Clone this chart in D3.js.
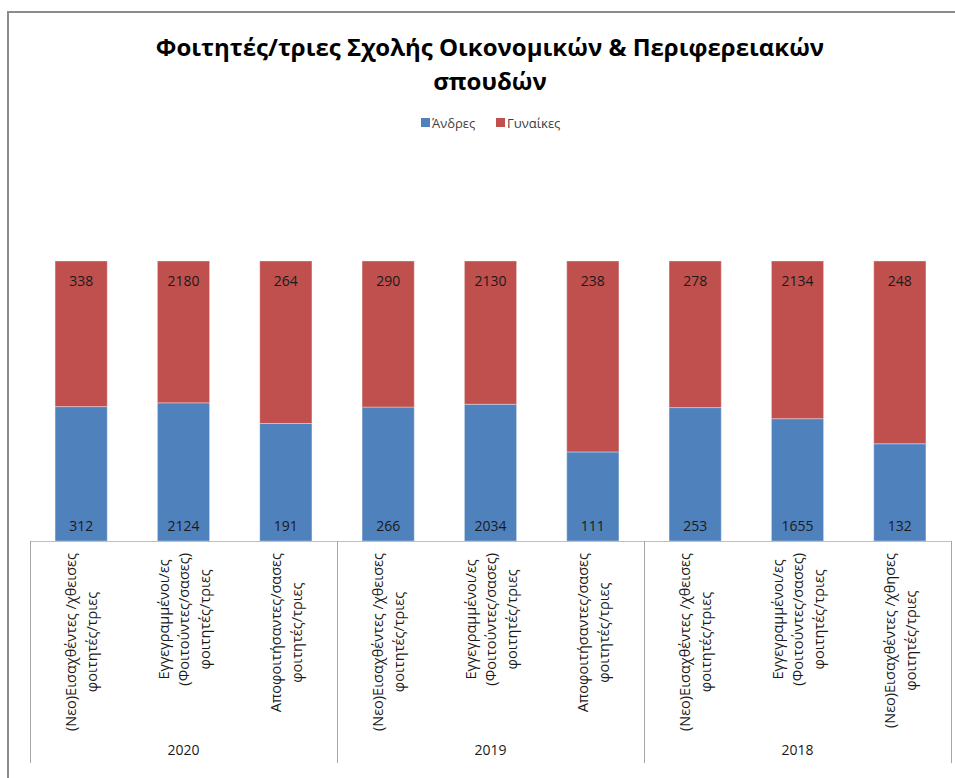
<!DOCTYPE html>
<html>
<head>
<meta charset="utf-8">
<script src="https://cdn.jsdelivr.net/npm/d3@7"></script>
<style>
  html, body { margin: 0; padding: 0; background: #fff; }
  svg { display: block; }
  text { font-family: "Open Sans", "DejaVu Sans", sans-serif; }
</style>
</head>
<body>
<svg id="chart" width="955" height="778"></svg>
<script>
// Category labels (line breaks split with "|"), grouped by academic year
const categories = [
  "(Νεο)Εισαχθέντες /χθεισες|φοιτητές/τριες",
  "Εγγεγραμμένοι/ες|(Φοιτούντες/σασες)|φοιτητές/τριες",
  "Αποφοιτήσαντες/σασες|φοιτητές/τριες",
  "(Νεο)Εισαχθέντες /χθεισες|φοιτητές/τριες",
  "Εγγεγραμμένοι/ες|(Φοιτούντες/σασες)|φοιτητές/τριες",
  "Αποφοιτήσαντες/σασες|φοιτητές/τριες",
  "(Νεο)Εισαχθέντες /χθεισες|φοιτητές/τριες",
  "Εγγεγραμμένοι/ες|(Φοιτούντες/σασες)|φοιτητές/τριες",
  "(Νεο)Εισαχθέντες /χθησες|φοιτητές/τριες"
];
const years = ["2020", "2019", "2018"];
const perYear = 3;

const seriesNames = ["Άνδρες", "Γυναίκες"];
const men   = [312, 2124, 191, 266, 2034, 111, 253, 1655, 132];
const women = [338, 2180, 264, 290, 2130, 238, 278, 2134, 248];

const colors = ["#4f81bd", "#c0504d"];
const title = ["Φοιτητές/τριες Σχολής Οικονομικών & Περιφερειακών", "σπουδών"];

// --- layout ---
const svg = d3.select("#chart");
const plot = { left: 30, right: 951, top: 261, bottom: 541, axisBottom: 763 };

// chart frame
svg.append("rect")
  .attr("x", 8).attr("y", 12)
  .attr("width", 1000).attr("height", 1000)
  .attr("fill", "#fff")
  .attr("stroke", "#8c8c8c").attr("stroke-width", 2);

// title
svg.append("text")
  .attr("text-anchor", "middle")
  .attr("font-size", 24).attr("font-weight", "bold").attr("fill", "#000")
  .selectAll("tspan").data(title).join("tspan")
  .attr("x", 490)
  .attr("y", (d, i) => 56 + i * 34)
  .text(d => d);

// legend
const legend = svg.append("g");
const legendItems = [{ x: 421, label: seriesNames[0], c: colors[0] },
                     { x: 496, label: seriesNames[1], c: colors[1] }];
legendItems.forEach(it => {
  legend.append("rect").attr("x", it.x).attr("y", 118).attr("width", 9).attr("height", 9).attr("fill", it.c);
  legend.append("text").attr("x", it.x + 11).attr("y", 127.5)
    .attr("font-size", 13).attr("fill", "#404040").text(it.label);
});

// scales
const x = d3.scaleBand()
  .domain(d3.range(categories.length))
  .range([plot.left, plot.right])
  .paddingInner(0.49).paddingOuter(0.245);

const y = d3.scaleLinear().domain([0, 1]).range([plot.bottom, plot.top]);

// 100% stacked data
const rows = categories.map((c, i) => ({ i, men: men[i], women: women[i] }));
const stack = d3.stack().keys(["men", "women"]).offset(d3.stackOffsetExpand);
const stacked = stack(rows);

const bars = svg.append("g");
stacked.forEach((layer, k) => {
  bars.selectAll(null).data(layer).join("rect")
    .attr("x", d => x(d.data.i))
    .attr("width", x.bandwidth())
    .attr("y", d => y(d[1]))
    .attr("height", d => y(d[0]) - y(d[1]))
    .attr("fill", colors[k])
    .attr("stroke", "rgba(255,255,255,0.35)")
    .attr("stroke-width", 1);
});

// data labels: men inside base, women inside end
const labels = svg.append("g").attr("font-size", 14).attr("fill", "#1a1a1a").attr("text-anchor", "middle");
labels.selectAll(null).data(stacked[0]).join("text")
  .attr("x", d => x(d.data.i) + x.bandwidth() / 2)
  .attr("y", d => y(d[0]) - 10)
  .text(d => d.data.men);
labels.selectAll(null).data(stacked[1]).join("text")
  .attr("x", d => x(d.data.i) + x.bandwidth() / 2)
  .attr("y", d => y(d[1]) + 25)
  .text(d => d.data.women);

// category axis line
svg.append("line")
  .attr("x1", plot.left).attr("x2", plot.right)
  .attr("y1", plot.bottom + 0.5).attr("y2", plot.bottom + 0.5)
  .attr("stroke", "#bfbfbf").attr("stroke-width", 1);

// year group separators
const step = x.step();
const edgeX = d3.range(years.length + 1).map(g => plot.left + g * perYear * step);
svg.append("g").selectAll("line").data(edgeX).join("line")
  .attr("x1", d => Math.round(d) + 0.5).attr("x2", d => Math.round(d) + 0.5)
  .attr("y1", plot.bottom).attr("y2", plot.axisBottom)
  .attr("stroke", "#a6a6a6").attr("stroke-width", 1);

// rotated category labels, lines centred on the longest one
const catG = svg.append("g").attr("font-size", 14.5).attr("fill", "#1a1a1a");
categories.forEach((c, i) => {
  const lines = c.split("|");
  const cx = x(i) + x.bandwidth() / 2;
  const g = catG.append("g");
  const texts = lines.map(ln => g.append("text")
    .attr("text-anchor", "middle")
    .attr("dominant-baseline", "central")
    .text(ln));
  const maxLen = d3.max(texts, t => t.node().getComputedTextLength());
  const cy = 553 + maxLen / 2;
  texts.forEach((t, j) => {
    const off = (j - (lines.length - 1) / 2) * 20.5;
    t.attr("transform", `translate(${cx + off},${cy}) rotate(-90)`);
  });
});

// year labels
svg.append("g").attr("font-size", 14).attr("fill", "#1a1a1a").attr("text-anchor", "middle")
  .selectAll("text").data(years).join("text")
  .attr("x", (d, g) => (edgeX[g] + edgeX[g + 1]) / 2)
  .attr("y", 755)
  .text(d => d);
</script>
</body>
</html>
